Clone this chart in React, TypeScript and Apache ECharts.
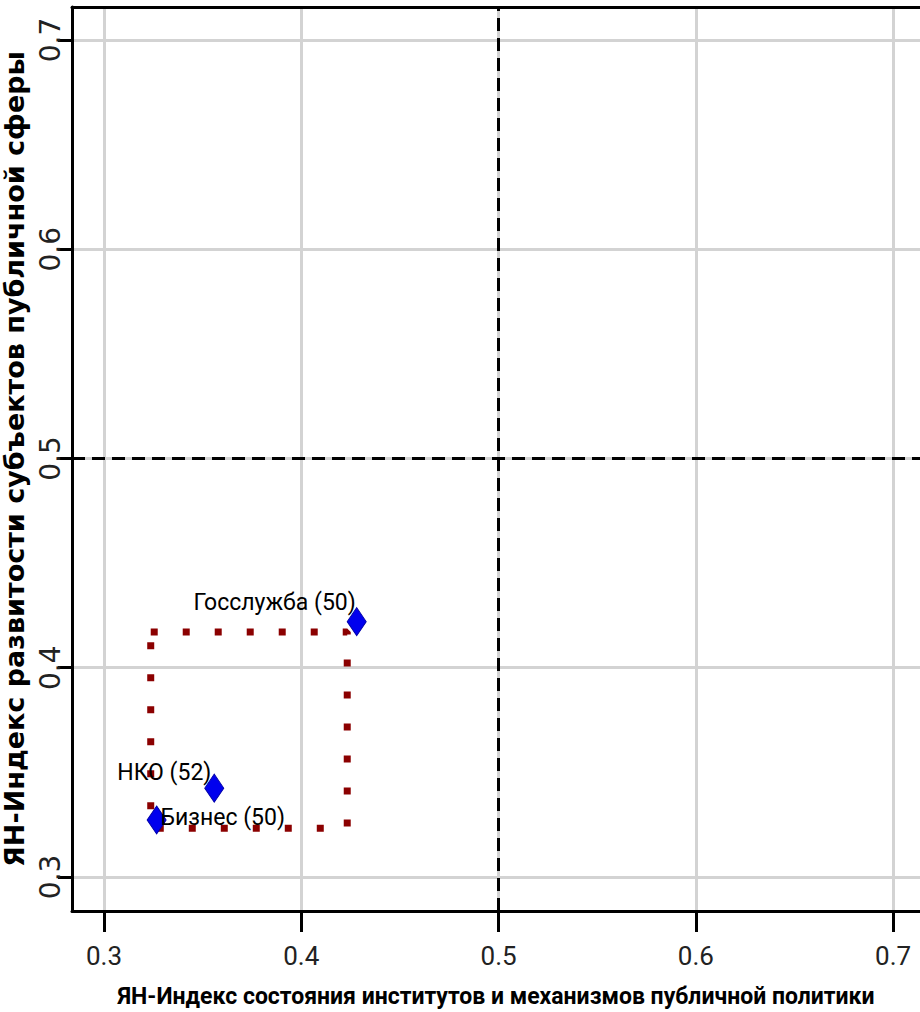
import React, { useEffect, useRef } from "react";
import * as echarts from "echarts";

// Data
const groupNames = ["Госслужба (50)", "НКО (52)", "Бизнес (50)"];
const xValues = [0.4281, 0.3559, 0.3267];
const yValues = [0.422, 0.3424, 0.3272];
const rectX = [0.3237, 0.4233];
const rectY = [0.3233, 0.417];
const tickValues = [0.3, 0.4, 0.5, 0.6, 0.7];
const referenceX = 0.5;
const referenceY = 0.5;
const xTitle = "ЯН-Индекс состояния институтов и механизмов публичной политики";
const yTitle = "ЯН-Индекс развитости субъектов публичной сферы";

const X_MIN = 0.2838;
const X_MAX = 0.7136;
const Y_MIN = 0.2837;
const Y_MAX = 0.7158;

const NARROW = "Roboto, 'Liberation Sans', sans-serif";

export default function App() {
  const ref = useRef<HTMLDivElement>(null);
  useEffect(() => {
    if (!ref.current) return;
    const chart = echarts.init(ref.current, undefined, { renderer: "svg" });

    const labelCfg = [
      { position: "left", distance: 0, offset: [9, -19] },
      { position: "left", distance: 0, offset: [7, -16] },
      { position: "right", distance: 0, offset: [-6, -2] },
    ];

    const points = groupNames.map((n, i) => ({
      name: n,
      value: [xValues[i], yValues[i]],
      label: {
        show: true,
        formatter: n,
        color: "#000",
        fontFamily: NARROW,
        fontSize: 23,
        ...labelCfg[i],
      },
    }));

    const rectData = [
      [rectX[0], rectY[1]],
      [rectX[1], rectY[1]],
      [rectX[1], rectY[0]],
      [rectX[0], rectY[0]],
      [rectX[0], rectY[1]],
    ];

    const option = {
      animation: false,
      backgroundColor: "#ffffff",
      grid: { left: 72, right: 0, top: 7, bottom: 101, containLabel: false, outerBoundsMode: "none" },
      xAxis: [
        {
          type: "value",
          min: X_MIN,
          max: X_MAX,
          name: xTitle,
          nameLocation: "middle",
          nameGap: 74,
          nameTextStyle: {
            fontFamily: NARROW,
            fontWeight: "bold",
            fontSize: 23,
            color: "#000",
          },
          axisLine: { show: true, lineStyle: { color: "#000", width: 3 } },
          axisTick: {
            show: true,
            inside: false,
            length: 21,
            customValues: tickValues,
            lineStyle: { color: "#000", width: 3 },
          },
          axisLabel: {
            customValues: tickValues,
            formatter: (v: number) => v.toFixed(1),
            fontFamily: NARROW,
            fontSize: 26,
            color: "#222",
            margin: 32,
          },
          splitLine: { show: true, lineStyle: { color: "#d3d3d3", width: 3 } },
        },
        {
          type: "value",
          position: "top",
          min: X_MIN,
          max: X_MAX,
          axisLine: { show: true, onZero: false, lineStyle: { color: "#000", width: 3 } },
          axisTick: { show: false },
          axisLabel: { show: false },
          splitLine: { show: false },
        },
      ],
      yAxis: {
        type: "value",
        min: Y_MIN,
        max: Y_MAX,
        name: yTitle,
        nameLocation: "middle",
        nameGap: 38,
        nameTextStyle: {
          fontFamily: "'DejaVu Sans', sans-serif",
          fontWeight: "bold",
          fontSize: 27,
          color: "#000",
        },
        axisLine: { show: true, lineStyle: { color: "#000", width: 3 } },
        axisTick: {
          show: true,
          inside: false,
          length: 14,
          customValues: tickValues,
          lineStyle: { color: "#000", width: 3 },
        },
        axisLabel: {
          customValues: tickValues,
          formatter: (v: number) => v.toFixed(1),
          rotate: 90,
          fontFamily: "'DejaVu Sans', sans-serif",
          fontSize: 28,
          color: "#222",
          margin: 8,
        },
        splitLine: { show: true, lineStyle: { color: "#d3d3d3", width: 3 } },
      },
      series: [
        {
          type: "line",
          data: rectData,
          symbol: "none",
          silent: true,
          z: 3,
          lineStyle: { color: "#8b0000", width: 7, type: [7, 25], cap: "butt" },
        },
        {
          type: "scatter",
          data: points,
          symbol: "diamond",
          symbolSize: [19, 28],
          z: 5,
          itemStyle: { color: "#0000ee", borderColor: "#0000aa", borderWidth: 1, opacity: 1 },
          markLine: {
            silent: true,
            symbol: "none",
            label: { show: false },
            lineStyle: { color: "#000", width: 3, type: [13, 7] },
            data: [{ xAxis: referenceX }, { yAxis: referenceY }],
          },
        },
      ],
    };

    chart.setOption(option as any);
    return () => chart.dispose();
  }, []);

  return (
    <div
      ref={ref}
      style={{ position: "absolute", left: 0, top: 0, width: 920, height: 1012 }}
    />
  );
}
